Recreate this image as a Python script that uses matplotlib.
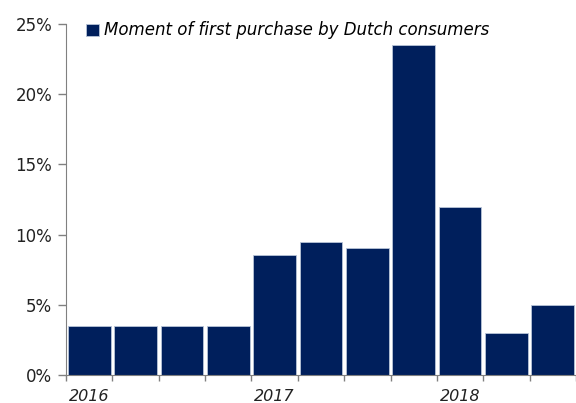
import matplotlib
matplotlib.use("Agg")
import matplotlib.pyplot as plt
import numpy as np

# ===== データ =====
quarters = ["2016 Q1", "2016 Q2", "2016 Q3", "2016 Q4",
            "2017 Q1", "2017 Q2", "2017 Q3", "2017 Q4",
            "2018 Q1", "2018 Q2", "2018 Q3"]
share = [3.5, 3.5, 3.5, 3.5, 8.55, 9.45, 9.05, 23.5, 12.0, 3.0, 5.0]
year_labels = ["2016", "2017", "2018"]
year_pos = [0, 4, 8]
yticks = [0, 5, 10, 15, 20, 25]

navy = "#001f5c"
grey = "#808080"

plt.rcParams['font.family'] = ['DejaVu Sans']

fig = plt.figure(figsize=(5.76, 4.03), dpi=100)
ax = fig.add_axes([66 / 576, 1 - 375 / 403, 1 - 66 / 576, (375 - 24) / 403])

x = np.arange(len(share))
ax.bar(x, share, width=0.92, color=navy, edgecolor="#b8c4d8", linewidth=0.6,
       label="Moment of first purchase by Dutch consumers")

ax.set_xlim(-0.5, 10.28)
ax.set_ylim(0, 25)

# y軸
ax.set_yticks(yticks)
ax.set_yticklabels([f"{v}%" for v in yticks], fontsize=12, color="#222222")
ax.tick_params(axis="y", direction="out", length=6, color=grey, width=1, pad=4)

# x軸: 区切りの目盛りと年ラベル
ax.set_xticks(np.arange(-0.5, 10.6, 1.0))
ax.set_xticklabels([])
ax.tick_params(axis="x", which="major", direction="out", length=4.5, color=grey, width=1)
ax.set_xticks(year_pos, minor=True)
ax.set_xticklabels(year_labels, minor=True, fontsize=11.5, style="italic", color="#222222")
ax.tick_params(axis="x", which="minor", length=0, pad=10)

for s in ["top", "right"]:
    ax.spines[s].set_visible(False)
ax.spines["left"].set_color(grey)
ax.spines["bottom"].set_color(grey)

ax.legend(loc="upper left", bbox_to_anchor=(0.01, 1.05), frameon=False,
          handlelength=0.75, handleheight=0.75, handletextpad=0.35,
          prop={"size": 12, "style": "italic"})

fig.savefig("out.png", dpi=100)
